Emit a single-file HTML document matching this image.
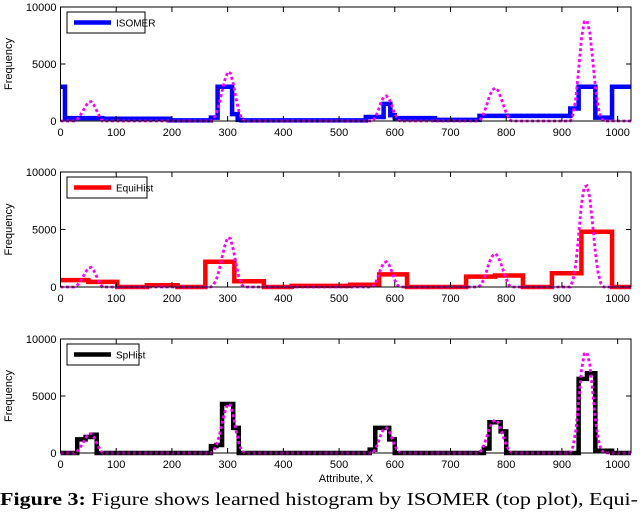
<!DOCTYPE html>
<html><head><meta charset="utf-8">
<style>
body{margin:0;background:#fff;width:640px;height:512px;overflow:hidden}
svg{display:block}
text{font-family:"Liberation Sans",sans-serif}
.cap{font-family:"Liberation Serif",serif}
</style></head><body>
<svg id="fig" width="640" height="512" viewBox="0 0 640 512"></svg>
<script>
// true distribution peaks: x samples and values
const truthPeak1X=[25,30,35,40,45,50,55,60,65,70,75];
const truthPeak1Y=[0,150,450,850,1300,1650,1700,1400,900,400,0];
const truthPeak2X=[270,275,280,285,290,295,300,305,310,315,320,325,330];
const truthPeak2Y=[0,200,700,1500,2600,3600,4300,4200,3300,2000,900,200,0];
const truthPeak3X=[560,565,570,575,580,585,590,595,600,605,610];
const truthPeak3Y=[0,300,900,1600,2100,2200,1900,1300,600,150,0];
const truthPeak4X=[750,755,760,765,770,775,780,785,790,795,800,805,810];
const truthPeak4Y=[0,200,700,1400,2200,2700,2900,2700,2100,1400,700,150,0];
const truthPeak5X=[915,920,925,930,935,940,945,950,955,960,965,970,975];
const truthPeak5Y=[0,600,2000,4500,7200,8700,8800,7800,5500,3000,1200,300,0];
// histograms: bin edges and values
const isoEdges=[0,8,75,195,270,282,308,318,325,548,580,592,600,672,752,915,930,960,990,1024];
const isoVals=[3000,250,200,50,300,3000,600,100,50,350,1500,500,250,100,450,1100,3000,300,3000];
const eqEdges=[0,50,102,155,210,260,312,365,415,520,572,622,728,780,830,882,935,990,1024];
const eqVals=[600,450,0,150,0,2200,500,0,100,200,1100,0,900,1000,0,1200,4800,0];
const spEdges=[0,30,45,55,65,270,280,290,310,320,555,565,590,600,610,760,770,790,800,925,930,945,960,990,1024];
const spVals=[0,1200,1400,1600,0,600,700,4300,2200,0,300,2200,1200,0,0,400,2700,1900,0,0,6500,7000,200,0];
const xTicks=[0,100,200,300,400,500,600,700,800,900,1000];
const yTicks=[0,5000,10000];

const NS="http://www.w3.org/2000/svg";
const svg=document.getElementById('fig');
function el(t,a,p){const e=document.createElementNS(NS,t);for(const k in a)e.setAttribute(k,a[k]);(p||svg).appendChild(e);return e;}
const L=60.5,R=631;
function sx(v){return L+(R-L)*v/1024;}
const panels=[
 {top:7,bot:121,edges:isoEdges,vals:isoVals,color:'#0000ff',label:'ISOMER',name:'isomer',lw:78},
 {top:172,bot:287,edges:eqEdges,vals:eqVals,color:'#ff0000',label:'EquiHist',name:'equihist',lw:80},
 {top:339,bot:453,edges:spEdges,vals:spVals,color:'#000000',label:'SpHist',name:'sphist',lw:72}
];
const peaks=[[truthPeak1X,truthPeak1Y],[truthPeak2X,truthPeak2Y],[truthPeak3X,truthPeak3Y],[truthPeak4X,truthPeak4Y],[truthPeak5X,truthPeak5Y]];
panels.forEach((p,pi)=>{
 const sy=v=>p.bot-(p.bot-p.top)*v/10000;
 const g=el('g',{});
 
 
 let d='';
 p.vals.forEach((v,i)=>{const x0=sx(p.edges[i]),x1=sx(p.edges[i+1]),y=sy(v);d+=(i?'L':'M')+x0+' '+y+'L'+x1+' '+y;});
 const h=el('path',{d:d,fill:'none',stroke:p.color,'stroke-width':4.5,'stroke-linejoin':'miter'},g);
 
 
 let td='M'+sx(0)+' '+sy(0);
 peaks.forEach(([xs,ys])=>{xs.forEach((x,i)=>{td+='L'+sx(x)+' '+sy(ys[i]);});});
 td+='L'+sx(1024)+' '+sy(0);
 const t=el('path',{d:td,fill:'none',stroke:'#ff00ff','stroke-width':2.8,'stroke-dasharray':'3 2.5'},g);
 
 
 const b=el('rect',{x:L,y:p.top,width:R-L,height:p.bot-p.top,fill:'none',stroke:'#000','stroke-width':1},g);
 
 
 xTicks.forEach(v=>{
  const x=sx(v);
  el('line',{x1:x,x2:x,y1:p.bot,y2:p.bot-5,stroke:'#000'},g);
  el('line',{x1:x,x2:x,y1:p.top,y2:p.top+5,stroke:'#000'},g);
  const tx=el('text',{x:x,y:p.bot+15,'font-size':11,'text-anchor':'middle'},g);
  tx.textContent=v;
  
  
 });
 yTicks.forEach(v=>{
  const y=sy(v);
  el('line',{x1:L,x2:L+5,y1:y,y2:y,stroke:'#000'},g);
  el('line',{x1:R,x2:R-5,y1:y,y2:y,stroke:'#000'},g);
  const ty=el('text',{x:L-4,y:y+4,'font-size':11,'text-anchor':'end'},g);
  ty.textContent=v;
  
  
 });
 const yl=el('text',{x:0,y:0,'font-size':11,'text-anchor':'middle',transform:'translate(12,'+((p.top+p.bot)/2)+') rotate(-90)'},g);
 yl.textContent='Frequency';
 
 
 const lg=el('g',{},g);
 
 
 el('rect',{x:67,y:p.top+5,width:p.lw,height:21,fill:'#fff',stroke:'#000','stroke-width':1},lg);
 el('line',{x1:74,x2:111,y1:p.top+15.5,y2:p.top+15.5,stroke:p.color,'stroke-width':4.5},lg);
 const lt=el('text',{x:116,y:p.top+19.5,'font-size':10},lg);
 lt.textContent=p.label;
 
 
});
const xl=el('text',{x:346,y:482,'font-size':11,'text-anchor':'middle'});
xl.textContent='Attribute, X';


const cap=el('text',{x:0,y:505,'font-size':17.5,'class':'cap',textLength:638,lengthAdjust:'spacingAndGlyphs'});
cap.innerHTML='<tspan font-weight="bold">Figure 3:</tspan> Figure shows learned histogram by ISOMER (top plot), Equi-';


</script>
</body></html>
